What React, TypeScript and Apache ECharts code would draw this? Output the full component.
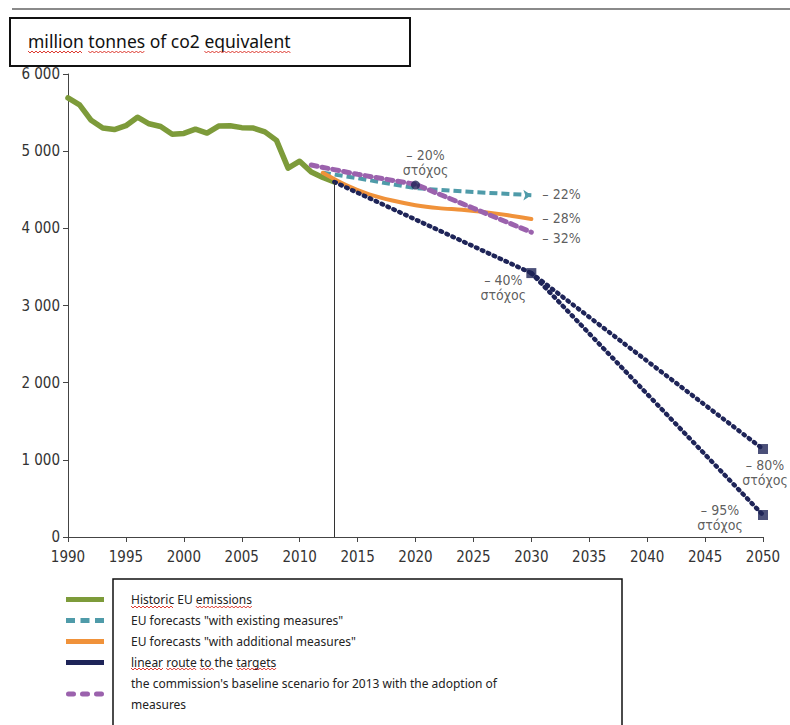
import React, { useEffect, useRef } from "react";
import * as echarts from "echarts";

// ---------- data ----------
const historicYears = [1990, 1991, 1992, 1993, 1994, 1995, 1996, 1997, 1998, 1999, 2000, 2001, 2002, 2003, 2004, 2005, 2006, 2007, 2008, 2009, 2010, 2011, 2012, 2013];
const historicValues = [5690, 5600, 5400, 5300, 5280, 5330, 5440, 5355, 5320, 5220, 5230, 5285, 5235, 5325, 5330, 5305, 5300, 5250, 5140, 4780, 4870, 4730, 4660, 4600];

const existingYears = [2012, 2015, 2020, 2025, 2030];
const existingValues = [4720, 4650, 4520, 4470, 4430];

const additionalYears = [2012, 2014, 2016, 2018, 2020, 2022, 2024, 2026, 2028, 2030];
const additionalValues = [4720, 4560, 4440, 4360, 4300, 4262, 4240, 4210, 4170, 4120];

const linearYears = [2013, 2030];
const linearValues = [4600, 3420];
const route80Years = [2030, 2050];
const route80Values = [3420, 1140];
const route95Years = [2030, 2050];
const route95Values = [3420, 285];

const baselineYears = [2011, 2015, 2020, 2025, 2030];
const baselineValues = [4820, 4700, 4570, 4260, 3950];

const targetYears = [2020, 2030, 2050, 2050];
const targetValues = [4560, 3420, 1140, 285];
const targetLabels = ["– 20%\nστόχος", "– 40%\nστόχος", "– 80%\nστόχος", "– 95%\nστόχος"];
const endLabels = ["– 22%", "– 28%", "– 32%"];

const divisionYear = 2013;
const xTickValues = [1990, 1995, 2000, 2005, 2010, 2015, 2020, 2025, 2030, 2035, 2040, 2045, 2050];
const yTickValues = [0, 1000, 2000, 3000, 4000, 5000, 6000];
const yTickLabels = ["0", "1 000", "2 000", "3 000", "4 000", "5 000", "6 000"];

const unitTitle = "million tonnes of co2 equivalent";
const seriesNames = [
  "Historic EU emissions",
  'EU forecasts "with existing measures"',
  'EU forecasts "with additional measures"',
  "linear route to the targets",
  "the commission's baseline scenario for 2013 with the adoption of measures",
];
const legendLabels = [
  "Historic EU emissions",
  'EU forecasts "with existing measures"',
  'EU forecasts "with additional measures"',
  "linear route to the targets",
  "the commission's baseline scenario for 2013 with the adoption of\nmeasures",
];

// ---------- styles ----------
const GREEN = "#7d9b3a";
const TEAL = "#4f9ba9";
const ORANGE = "#f0923a";
const NAVY = "#1e2458";
const PURPLE = "#9b62ad";
const AXIS_FONT = "'Liberation Sans Narrow', 'DejaVu Sans Condensed', 'Liberation Sans', sans-serif";
const TEXT_FONT = "'Noto Sans', 'Liberation Sans', Arial, sans-serif";
const TITLE_SIZE = 17.5;
const LEGEND_SIZE = 12;

const pairs = (xs: number[], ys: number[]) => xs.map((x, i) => [x, ys[i]]);

let measureCtx: CanvasRenderingContext2D | null = null;
const measure = (text: string, font: string) => {
  if (!measureCtx) measureCtx = document.createElement("canvas").getContext("2d");
  if (!measureCtx) return text.length * 7;
  measureCtx.font = font;
  return measureCtx.measureText(text).width;
};

const squiggle = (x1: number, x2: number, y: number) => {
  const pts: number[][] = [];
  let up = true;
  for (let x = x1; x <= x2; x += 2) {
    pts.push([x, y + (up ? -1 : 1)]);
    up = !up;
  }
  return {
    type: "polyline",
    shape: { points: pts },
    style: { stroke: "#d9261c", lineWidth: 0.9, fill: null },
    silent: true,
    z: 10,
  };
};

// wavy spell-check underline under a word of a text that starts at x0
const wordSquiggle = (text: string, word: string, x0: number, y: number, font: string) => {
  const idx = text.indexOf(word);
  const start = x0 + measure(text.slice(0, idx), font);
  const end = start + measure(word, font);
  return squiggle(start, end, y);
};

const targetLabelLayout = [
  { position: [14.5, -3.5], align: "center", verticalAlign: "bottom" },
  { position: [-23, 4.5], align: "center", verticalAlign: "top" },
  { position: [7, 13.5], align: "center", verticalAlign: "top" },
  { position: [-38, -7.5], align: "center", verticalAlign: "top" },
];

function buildOption() {
  const titleFont = `${TITLE_SIZE}px ${TEXT_FONT}`;
  const legendFont = `${LEGEND_SIZE}px ${TEXT_FONT}`;
  const legendTextX = 131;

  const existingData: any[] = pairs(existingYears, existingValues).map((v, i, arr) =>
    i === arr.length - 1
      ? { value: v, symbol: "arrow", symbolSize: [8, 8], symbolRotate: -90 }
      : { value: v }
  );

  const endPoints = [
    [existingYears[existingYears.length - 1], existingValues[existingValues.length - 1]],
    [additionalYears[additionalYears.length - 1], additionalValues[additionalValues.length - 1]],
    [baselineYears[baselineYears.length - 1], baselineValues[baselineValues.length - 1]],
  ];
  const endOffsets = [[0, -1], [0, -1], [0, 6]];

  const dashIcon = "path://M0,0h9v5h-9z M14.5,0h9v5h-9z M29,0h9v5h-9z";
  const blobIcon =
    "path://M2.5,0h5a2.5,2.5 0 0 1 0,5h-5a2.5,2.5 0 0 1 0,-5z M16.5,0h5a2.5,2.5 0 0 1 0,5h-5a2.5,2.5 0 0 1 0,-5z M30.5,0h5a2.5,2.5 0 0 1 0,5h-5a2.5,2.5 0 0 1 0,-5z";

  return {
    animation: false,
    backgroundColor: "#ffffff",
    grid: { left: 68, right: 27, top: 74, bottom: 188, containLabel: false },
    xAxis: {
      type: "value",
      min: 1990,
      max: 2050,
      interval: 5,
      axisLine: { show: true, lineStyle: { color: "#444", width: 1 } },
      axisTick: { show: true, inside: false, length: 5, lineStyle: { color: "#444" } },
      splitLine: { show: false },
      axisLabel: {
        margin: 12,
        color: "#333",
        fontSize: 15,
        fontFamily: AXIS_FONT,
        formatter: (v: number) => (xTickValues.includes(v) ? String(v) : ""),
      },
    },
    yAxis: {
      type: "value",
      min: 0,
      max: 6000,
      interval: 1000,
      axisLine: { show: true, lineStyle: { color: "#444", width: 1 } },
      axisTick: { show: true, inside: false, length: 5, lineStyle: { color: "#444" } },
      splitLine: { show: false },
      axisLabel: {
        margin: 8,
        color: "#333",
        fontSize: 15,
        fontFamily: AXIS_FONT,
        formatter: (v: number) => {
          const i = yTickValues.indexOf(v);
          return i >= 0 ? yTickLabels[i] : "";
        },
      },
    },
    legend: {
      orient: "vertical",
      left: 66,
      top: 589,
      height: 140,
      padding: 0,
      itemWidth: 38,
      itemHeight: 5,
      itemGap: 0,
      selectedMode: false,
      data: [
        { name: seriesNames[0], icon: "rect" },
        { name: seriesNames[1], icon: dashIcon },
        { name: seriesNames[2], icon: "rect" },
        { name: seriesNames[3], icon: "rect" },
        { name: seriesNames[4], icon: blobIcon },
      ],
      formatter: (name: string) => legendLabels[seriesNames.indexOf(name)] ?? name,
      textStyle: {
        fontSize: LEGEND_SIZE,
        lineHeight: 21,
        color: "#222",
        fontFamily: TEXT_FONT,
        padding: [0, 0, 0, 22],
      },
    },
    graphic: [
      {
        type: "line",
        shape: { x1: 12, y1: 9, x2: 790, y2: 9 },
        style: { stroke: "#8a8a8a", lineWidth: 2 },
        silent: true,
      },
      {
        type: "rect",
        shape: { x: 10, y: 18, width: 400, height: 48 },
        style: { fill: "#fff", stroke: "#111", lineWidth: 2 },
        silent: true,
      },
      {
        type: "text",
        x: 28,
        y: 41,
        style: {
          text: unitTitle,
          font: titleFont,
          fill: "#111",
          verticalAlign: "middle",
        },
        silent: true,
      },
      {
        type: "rect",
        shape: { x: 113, y: 579, width: 509, height: 160 },
        style: { fill: null, stroke: "#111", lineWidth: 1.5 },
        silent: true,
        z: -1,
      },
      wordSquiggle(unitTitle, "million", 28, 52, titleFont),
      wordSquiggle(unitTitle, "tonnes", 28, 52, titleFont),
      wordSquiggle(unitTitle, "equivalent", 28, 52, titleFont),
      wordSquiggle(legendLabels[0], "Historic", legendTextX, 607, legendFont),
      wordSquiggle(legendLabels[0], "emissions", legendTextX, 607, legendFont),
      wordSquiggle(legendLabels[3], "linear", legendTextX, 669, legendFont),
      wordSquiggle(legendLabels[3], "route", legendTextX, 669, legendFont),
      wordSquiggle(legendLabels[3], "to ", legendTextX, 669, legendFont),
      wordSquiggle(legendLabels[3], "targets", legendTextX, 669, legendFont),
    ],
    series: [
      {
        name: seriesNames[0],
        type: "line",
        data: pairs(historicYears, historicValues),
        symbol: "none",
        lineStyle: { color: GREEN, width: 5.5, cap: "round", join: "round" },
        itemStyle: { color: GREEN },
        z: 2,
      },
      {
        name: seriesNames[1],
        type: "line",
        data: existingData,
        symbol: "circle",
        symbolSize: 0,
        showSymbol: true,
        lineStyle: { color: TEAL, width: 4, type: [8, 4] },
        itemStyle: { color: TEAL },
        z: 3,
      },
      {
        name: seriesNames[2],
        type: "line",
        data: pairs(additionalYears, additionalValues),
        symbol: "none",
        smooth: 0.3,
        lineStyle: { color: ORANGE, width: 4, cap: "round", join: "round" },
        itemStyle: { color: ORANGE },
        z: 3,
      },
      {
        name: seriesNames[3],
        type: "line",
        data: pairs(linearYears, linearValues),
        symbol: "none",
        lineStyle: { color: NAVY, width: 4.5, type: [1.5, 5], cap: "round" },
        itemStyle: { color: NAVY },
        z: 4,
        markLine: {
          silent: true,
          symbol: "none",
          label: { show: false },
          lineStyle: { color: "#333", width: 1, type: "solid" },
          data: [[{ coord: [divisionYear, 0] }, { coord: [divisionYear, linearValues[0]] }]],
        },
      },
      {
        name: "route80",
        type: "line",
        data: pairs(route80Years, route80Values),
        symbol: "none",
        lineStyle: { color: NAVY, width: 4.5, type: [1.5, 5], cap: "round" },
        itemStyle: { color: NAVY },
        z: 4,
      },
      {
        name: "route95",
        type: "line",
        data: pairs(route95Years, route95Values),
        symbol: "none",
        lineStyle: { color: NAVY, width: 4.5, type: [1.5, 5], cap: "round" },
        itemStyle: { color: NAVY },
        z: 4,
      },
      {
        name: seriesNames[4],
        type: "line",
        data: pairs(baselineYears, baselineValues),
        symbol: "none",
        lineStyle: { color: PURPLE, width: 5, type: [6, 5], cap: "round" },
        itemStyle: { color: PURPLE },
        z: 5,
      },
      {
        name: "targets",
        type: "scatter",
        z: 6,
        data: pairs(targetYears, targetValues).map((v, i) => ({
          value: v,
          symbol: i === 0 ? "circle" : "rect",
          symbolSize: i === 0 ? 9 : 10,
          label: {
            show: true,
            formatter: targetLabels[i],
            position: targetLabelLayout[i].position,
            align: targetLabelLayout[i].align,
            verticalAlign: targetLabelLayout[i].verticalAlign,
            fontSize: 14,
            lineHeight: 15,
            color: "#333",
            fontFamily: AXIS_FONT,
          },
        })),
        itemStyle: { color: NAVY },
      },
      {
        name: "endLabels",
        type: "scatter",
        z: 6,
        symbolSize: 2,
        itemStyle: { color: "rgba(0,0,0,0)" },
        data: endPoints.map((v, i) => ({
          value: v,
          label: {
            show: true,
            formatter: endLabels[i],
            position: "right",
            distance: 10,
            offset: endOffsets[i],
            fontSize: 14,
            color: "#333",
            fontFamily: AXIS_FONT,
          },
        })),
      },
    ],
  };
}

export default function App() {
  const ref = useRef<HTMLDivElement>(null);
  useEffect(() => {
    document.body.style.margin = "0";
    if (!ref.current) return;
    const chart = echarts.init(ref.current, null, { renderer: "svg" });
    chart.setOption(buildOption() as any);
    return () => chart.dispose();
  }, []);
  return <div ref={ref} style={{ width: 790, height: 725, background: "#fff" }} />;
}
